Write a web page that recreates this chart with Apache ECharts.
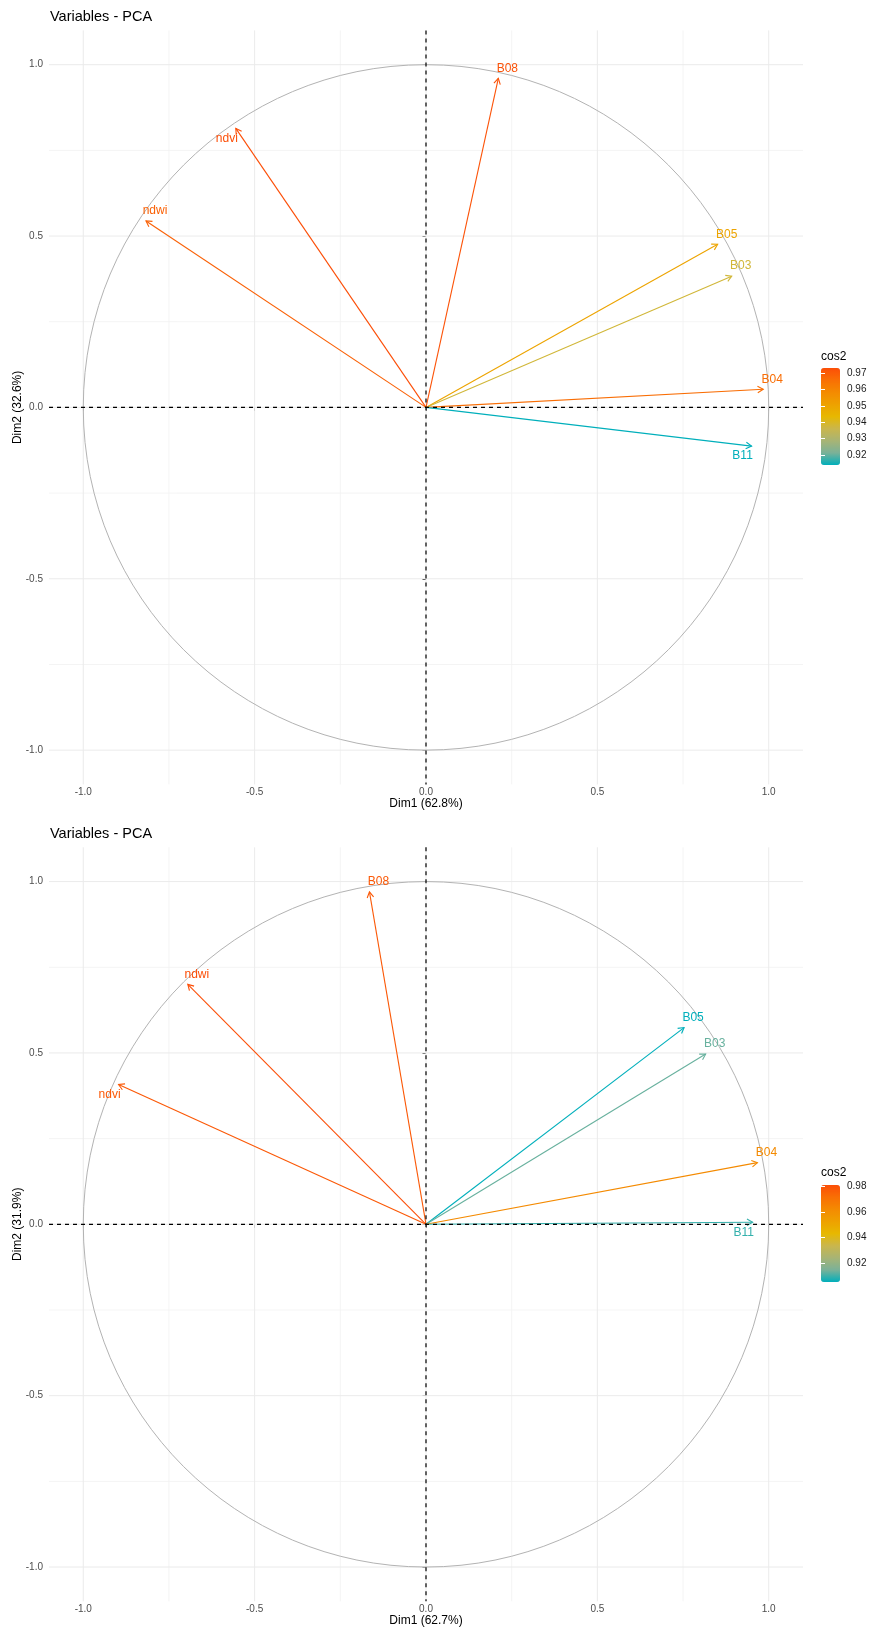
<!DOCTYPE html>
<html>
<head>
<meta charset="utf-8">
<script src="https://cdn.jsdelivr.net/npm/echarts@6/dist/echarts.min.js"></script>
<style>
html,body{margin:0;padding:0;background:#fff;}
#chart{width:869px;height:1637px;}
</style>
</head>
<body>
<div id="chart"></div>
<script>
// ---------- data ----------
const chartTitle = 'Variables - PCA';
const legendTitle = 'cos2';

const varNamesTop = ['B08', 'ndvi', 'ndwi', 'B05', 'B03', 'B04', 'B11'];
const dim1Top = [0.211, -0.555, -0.817, 0.851, 0.892, 0.984, 0.950];
const dim2Top = [0.960, 0.814, 0.544, 0.476, 0.383, 0.053, -0.113];
const cos2Top = [0.972, 0.973, 0.969, 0.950, 0.938, 0.966, 0.914];
const labelSideTop = ['up', 'down', 'up', 'up', 'up', 'up', 'down'];
const xNameTop = 'Dim1 (62.8%)';
const yNameTop = 'Dim2 (32.6%)';
const legendBreaksTop = [0.92, 0.93, 0.94, 0.95, 0.96, 0.97];

const varNamesBottom = ['B08', 'ndwi', 'ndvi', 'B05', 'B03', 'B04', 'B11'];
const dim1Bottom = [-0.165, -0.695, -0.897, 0.753, 0.816, 0.967, 0.953];
const dim2Bottom = [0.970, 0.700, 0.408, 0.574, 0.497, 0.180, 0.006];
const cos2Bottom = [0.978, 0.981, 0.978, 0.905, 0.913, 0.962, 0.909];
const labelSideBottom = ['up', 'up', 'down', 'up', 'up', 'up', 'down'];
const xNameBottom = 'Dim1 (62.7%)';
const yNameBottom = 'Dim2 (31.9%)';
const legendBreaksBottom = [0.92, 0.94, 0.96, 0.98];

const axisBreaks = [-1, -0.5, 0, 0.5, 1];
const minorBreaks = [-0.75, -0.25, 0.25, 0.75];
const circleData = [[0, 0, 1]];

// gradient (Lab-interpolated) #00AFBB -> #E7B800 -> #FC4E07
const gradientCols = ['#00AFBB', '#7BB198', '#A8B474', '#CAB64C', '#E7B800', '#EEA100', '#F48A01', '#F96F04', '#FC4E07'];

// ---------- helpers ----------
const FONT = '"Liberation Sans", Arial, Helvetica, sans-serif';

function gridRender(color, width) {
  return function (params, api) {
    const cs = params.coordSys;
    const v = api.value(0);
    const px = api.coord([v, 0])[0];
    const py = api.coord([0, v])[1];
    return {
      type: 'group', children: [
        {type: 'line', shape: {x1: px, y1: cs.y, x2: px, y2: cs.y + cs.height}, style: {stroke: color, lineWidth: width}},
        {type: 'line', shape: {x1: cs.x, y1: py, x2: cs.x + cs.width, y2: py}, style: {stroke: color, lineWidth: width}}
      ]
    };
  };
}

function zeroRender(params, api) {
  const cs = params.coordSys;
  const o = api.coord([api.value(0), api.value(1)]);
  const st = {stroke: '#000', lineWidth: 1.2, lineDash: [4, 4]};
  return {
    type: 'group', children: [
      {type: 'line', shape: {x1: o[0], y1: cs.y, x2: o[0], y2: cs.y + cs.height}, style: st},
      {type: 'line', shape: {x1: cs.x, y1: o[1], x2: cs.x + cs.width, y2: o[1]}, style: st}
    ]
  };
}

function circleRender(params, api) {
  const c = api.coord([api.value(0), api.value(1)]);
  const s = api.size([api.value(2), api.value(2)]);
  return {
    type: 'ellipse',
    shape: {cx: c[0], cy: c[1], rx: s[0], ry: s[1]},
    style: {stroke: '#B3B3B3', lineWidth: 1, fill: null}
  };
}

function arrowRender(names, sides) {
  return function (params, api) {
    const i = params.dataIndex;
    const o = api.coord([0, 0]);
    const p = api.coord([api.value(0), api.value(1)]);
    const color = api.visual('color');
    const ang = Math.atan2(p[1] - o[1], p[0] - o[0]);
    const L = 6.5, A = Math.PI / 6;
    const h1 = [p[0] - L * Math.cos(ang - A), p[1] - L * Math.sin(ang - A)];
    const h2 = [p[0] - L * Math.cos(ang + A), p[1] - L * Math.sin(ang + A)];
    const off = sides[i] === 'up' ? [9, -10] : [-9, 10];
    return {
      type: 'group', children: [
        {type: 'line', shape: {x1: o[0], y1: o[1], x2: p[0], y2: p[1]}, style: {stroke: color, lineWidth: 1.1}},
        {type: 'polyline', shape: {points: [h1, p, h2]}, style: {stroke: color, lineWidth: 1.1, fill: null}},
        {type: 'text', style: {text: names[i], x: p[0] + off[0], y: p[1] + off[1], fill: color,
          font: '12px ' + FONT, align: 'center', verticalAlign: 'middle'}}
      ]
    };
  };
}

function panelAxes(gi, xName, yName) {
  return {
    x: {
      gridIndex: gi, type: 'value', min: -1.1, max: 1.1,
      axisLine: {show: false}, splitLine: {show: false},
      axisTick: {show: true, customValues: axisBreaks, length: 3.5, lineStyle: {color: '#333333', width: 1}},
      axisLabel: {customValues: axisBreaks, formatter: v => v.toFixed(1), fontSize: 10, color: '#4D4D4D', margin: 3, fontFamily: FONT},
      name: xName, nameLocation: 'middle', nameGap: 13, nameMoveOverlap: false,
      nameTextStyle: {fontSize: 12, color: '#000', fontFamily: FONT}
    },
    y: {
      gridIndex: gi, type: 'value', min: -1.1, max: 1.1,
      axisLine: {show: false}, splitLine: {show: false},
      axisTick: {show: true, customValues: axisBreaks, length: 3.5, lineStyle: {color: '#333333', width: 1}},
      axisLabel: {customValues: axisBreaks, formatter: v => v.toFixed(1), fontSize: 10, color: '#4D4D4D', margin: 6, fontFamily: FONT},
      name: yName, nameLocation: 'middle', nameGap: 25, nameMoveOverlap: false,
      nameTextStyle: {fontSize: 12, color: '#000', fontFamily: FONT}
    }
  };
}

function legendAxes(gi, vals, breaks) {
  const mn = Math.min.apply(null, vals), mx = Math.max.apply(null, vals);
  return {
    x: {gridIndex: gi, type: 'value', show: false},
    yR: {
      gridIndex: gi, type: 'value', min: mn, max: mx, position: 'right', z: 10,
      axisLine: {show: false}, splitLine: {show: false},
      axisTick: {show: true, inside: true, customValues: breaks, length: 4, lineStyle: {color: '#FFFFFF', width: 1}},
      axisLabel: {customValues: breaks, formatter: v => v.toFixed(2), fontSize: 10, color: '#1A1A1A', margin: 7, fontFamily: FONT}
    },
    yL: {
      gridIndex: gi, type: 'value', min: mn, max: mx, position: 'left', z: 10,
      axisLine: {show: false}, splitLine: {show: false},
      axisTick: {show: true, inside: true, customValues: breaks, length: 4, lineStyle: {color: '#FFFFFF', width: 1}},
      axisLabel: {show: false}
    },
    min: mn, max: mx
  };
}

function pts(xs, ys, cs) { return xs.map((x, i) => [x, ys[i], cs[i]]); }

const aTop = panelAxes(0, xNameTop, yNameTop);
const aBot = panelAxes(1, xNameBottom, yNameBottom);
const lTop = legendAxes(2, cos2Top, legendBreaksTop);
const lBot = legendAxes(3, cos2Bottom, legendBreaksBottom);

function panelSeries(ai, names, sides, data) {
  return [
    {type: 'custom', xAxisIndex: ai, yAxisIndex: ai, renderItem: gridRender('#F1F1F1', 0.8), data: minorBreaks.map(v => [v, v]), silent: true, z: 1},
    {type: 'custom', xAxisIndex: ai, yAxisIndex: ai, renderItem: gridRender('#EBEBEB', 1), data: axisBreaks.map(v => [v, v]), silent: true, z: 2},
    {type: 'custom', xAxisIndex: ai, yAxisIndex: ai, renderItem: circleRender, data: circleData, silent: true, z: 3},
    {type: 'custom', xAxisIndex: ai, yAxisIndex: ai, renderItem: arrowRender(names, sides), data: data, silent: true, z: 4},
    {type: 'custom', xAxisIndex: ai, yAxisIndex: ai, renderItem: zeroRender, data: [[0, 0]], silent: true, z: 5}
  ];
}

const gridBase = {containLabel: false, outerBoundsMode: 'none'};
const chart = echarts.init(document.getElementById('chart'), null, {renderer: 'canvas'});
const option = {
  animation: false,
  backgroundColor: '#ffffff',
  textStyle: {fontFamily: FONT},
  title: [
    {text: chartTitle, left: 50, top: 8.5, padding: 0, textStyle: {fontSize: 14.5, fontWeight: 'normal', color: '#000', fontFamily: FONT, lineHeight: 16}},
    {text: chartTitle, left: 50, top: 825.5, padding: 0, textStyle: {fontSize: 14.5, fontWeight: 'normal', color: '#000', fontFamily: FONT, lineHeight: 16}},
    {text: legendTitle, left: 821, top: 350, padding: 0, textStyle: {fontSize: 12, fontWeight: 'normal', color: '#000', fontFamily: FONT, lineHeight: 14}},
    {text: legendTitle, left: 821, top: 1166, padding: 0, textStyle: {fontSize: 12, fontWeight: 'normal', color: '#000', fontFamily: FONT, lineHeight: 14}}
  ],
  grid: [
    Object.assign({left: 49, top: 30.4, width: 754, height: 754}, gridBase),
    Object.assign({left: 49, top: 847.3, width: 754, height: 754}, gridBase),
    Object.assign({left: 821, top: 368, width: 19, height: 97}, gridBase),
    Object.assign({left: 821, top: 1185, width: 19, height: 97}, gridBase)
  ],
  xAxis: [aTop.x, aBot.x, lTop.x, lBot.x],
  yAxis: [aTop.y, aBot.y, lTop.yR, lTop.yL, lBot.yR, lBot.yL],
  visualMap: [
    {type: 'continuous', seriesIndex: 3, dimension: 2, min: lTop.min, max: lTop.max,
      inRange: {color: gradientCols}, left: 821, top: 368, itemWidth: 19, itemHeight: 97,
      calculable: false, padding: 0, hoverLink: false, orient: 'vertical', text: null, showLabel: false},
    {type: 'continuous', seriesIndex: 8, dimension: 2, min: lBot.min, max: lBot.max,
      inRange: {color: gradientCols}, left: 821, top: 1185, itemWidth: 19, itemHeight: 97,
      calculable: false, padding: 0, hoverLink: false, orient: 'vertical', text: null, showLabel: false}
  ],
  series: [].concat(
    panelSeries(0, varNamesTop, labelSideTop, pts(dim1Top, dim2Top, cos2Top)),
    panelSeries(1, varNamesBottom, labelSideBottom, pts(dim1Bottom, dim2Bottom, cos2Bottom))
  )
};
chart.setOption(option);
</script>
</body>
</html>
